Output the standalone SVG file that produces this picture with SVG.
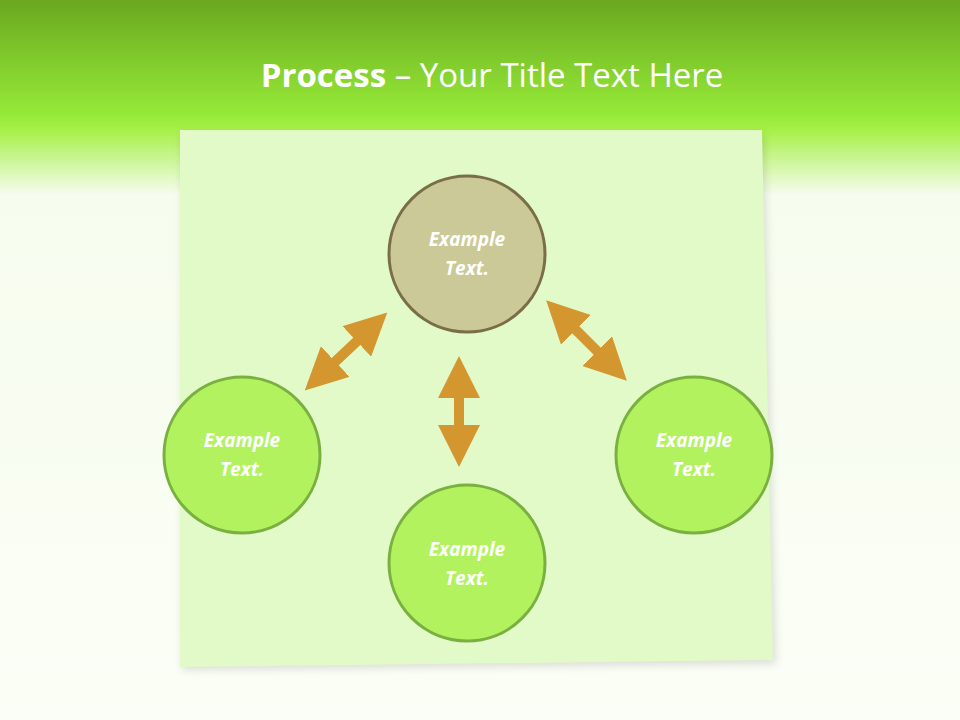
<svg xmlns="http://www.w3.org/2000/svg" width="960" height="720" viewBox="0 0 960 720">
<defs>
<linearGradient id="bg" x1="0" y1="0" x2="0" y2="1">
<stop offset="0" stop-color="#6aa820"/>
<stop offset="0.16" stop-color="#96ea38"/>
<stop offset="0.18" stop-color="#a6f048"/>
<stop offset="0.27" stop-color="#f6fcee"/>
<stop offset="1" stop-color="#fbfef6"/>
</linearGradient>
<filter id="sh" x="-10%" y="-10%" width="120%" height="120%"><feGaussianBlur stdDeviation="4"/></filter>
<marker id="ah" viewBox="0 0 10 10" refX="5" refY="5" markerWidth="4.2" markerHeight="4.2" orient="auto-start-reverse" markerUnits="strokeWidth">
<path d="M0,0 L10,5 L0,10 z" fill="#d4962e"/>
</marker>
<style>
.ct{font-family:"Open Sans","DejaVu Sans",sans-serif;font-size:19px;font-weight:bold;font-style:italic;fill:#ffffff;text-anchor:middle}
.g{fill:#b2f25e;stroke:#7ab040;stroke-width:3}
.arr{stroke:#d4962e;stroke-width:10;fill:none;marker-start:url(#ah);marker-end:url(#ah)}
</style>
</defs>
<rect width="960" height="720" fill="url(#bg)"/>
<polygon points="182,134 764,134 776,664 182,670" fill="#000" opacity="0.12" filter="url(#sh)"/>
<polygon points="180,130 762,130 773,660 180,667" fill="#e2f9c8"/>
<text x="492" y="87" font-family="'Open Sans','DejaVu Sans',sans-serif" font-size="33" fill="#ffffff" text-anchor="middle"><tspan font-weight="bold">Process</tspan> – Your Title Text Here</text>
<g id="connectors">
<line class="arr" x1="459" y1="377" x2="459" y2="446"/>
<line class="arr" x1="372" y1="327" x2="320" y2="376"/>
<line class="arr" x1="561" y1="315" x2="612" y2="366"/>
</g>
<g id="n-top"><circle cx="467" cy="254" r="78" fill="#ccc998" stroke="#7a6e48" stroke-width="3"/><text class="ct" x="467" y="246">Example</text><text class="ct" x="467" y="275">Text.</text></g>
<g id="n-left"><circle class="g" cx="242" cy="455" r="78"/><text class="ct" x="242" y="447">Example</text><text class="ct" x="242" y="476">Text.</text></g>
<g id="n-bottom"><circle class="g" cx="467" cy="563" r="78"/><text class="ct" x="467" y="556">Example</text><text class="ct" x="467" y="585">Text.</text></g>
<g id="n-right"><circle class="g" cx="694" cy="455" r="78"/><text class="ct" x="694" y="447">Example</text><text class="ct" x="694" y="476">Text.</text></g>
</svg>
